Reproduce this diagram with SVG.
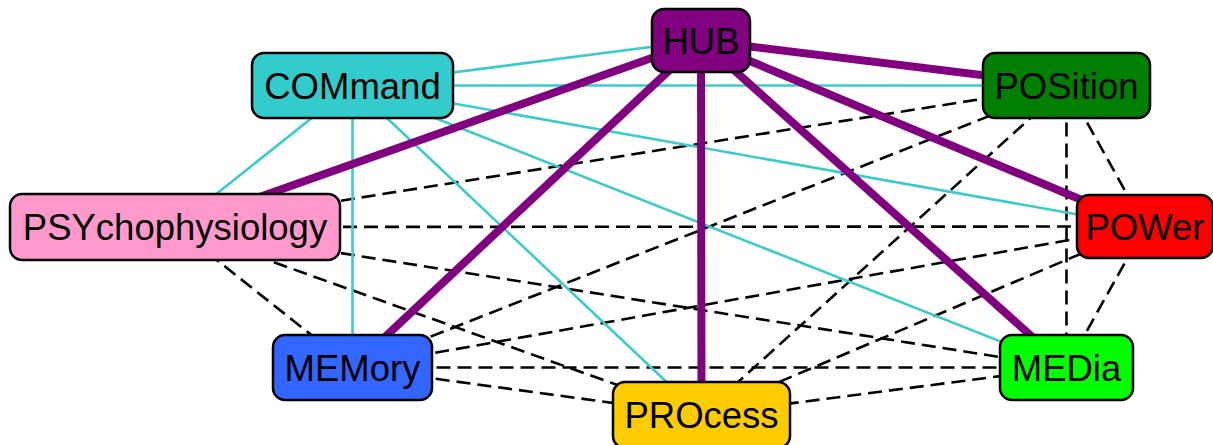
<svg xmlns="http://www.w3.org/2000/svg" width="1213" height="445" viewBox="0 0 1213 445">
  <style>
    .dash { stroke: #000; stroke-width: 2.6; stroke-dasharray: 14 7; fill: none; }
    .cyan { stroke: #3ACCCC; stroke-width: 2.6; fill: none; }
    .hub { stroke: #800080; stroke-width: 8; fill: none; }
    .box { stroke: #000; stroke-width: 2.5; }
    .label { font-family: "Liberation Sans", Arial, sans-serif; font-size: 36.5px; fill: #000; text-anchor: middle; }
  </style>
  <rect width="1213" height="445" fill="#fff"/>

  <!-- connectors run centre to centre, drawn beneath the boxes -->
  <g id="connectors">
    <g id="dashed-links">
      <line class="dash" x1="175" y1="227" x2="352.5" y2="367.5"/>
      <line class="dash" x1="175" y1="227" x2="701.5" y2="415"/>
      <line class="dash" x1="175" y1="227" x2="1066.5" y2="367.5"/>
      <line class="dash" x1="175" y1="227" x2="1145" y2="226.5"/>
      <line class="dash" x1="175" y1="227" x2="1066.5" y2="85.5"/>
      <line class="dash" x1="352.5" y1="367.5" x2="701.5" y2="415"/>
      <line class="dash" x1="352.5" y1="367.5" x2="1066.5" y2="367.5"/>
      <line class="dash" x1="352.5" y1="367.5" x2="1145" y2="226.5"/>
      <line class="dash" x1="352.5" y1="367.5" x2="1066.5" y2="85.5"/>
      <line class="dash" x1="701.5" y1="415" x2="1066.5" y2="367.5"/>
      <line class="dash" x1="701.5" y1="415" x2="1145" y2="226.5"/>
      <line class="dash" x1="701.5" y1="415" x2="1066.5" y2="85.5"/>
      <line class="dash" x1="1066.5" y1="367.5" x2="1145" y2="226.5"/>
      <line class="dash" x1="1066.5" y1="367.5" x2="1066.5" y2="85.5"/>
      <line class="dash" x1="1145" y1="226.5" x2="1066.5" y2="85.5"/>
    </g>
    <g id="command-links">
      <line class="cyan" x1="352.5" y1="85.5" x2="701" y2="40.5"/>
      <line class="cyan" x1="352.5" y1="85.5" x2="1066.5" y2="85.5"/>
      <line class="cyan" x1="352.5" y1="85.5" x2="1145" y2="226.5"/>
      <line class="cyan" x1="352.5" y1="85.5" x2="1066.5" y2="367.5"/>
      <line class="cyan" x1="352.5" y1="85.5" x2="701.5" y2="415"/>
      <line class="cyan" x1="352.5" y1="85.5" x2="352.5" y2="367.5"/>
      <line class="cyan" x1="352.5" y1="85.5" x2="175" y2="227"/>
    </g>
    <g id="hub-links">
      <line class="hub" x1="701" y1="40.5" x2="1066.5" y2="85.5"/>
      <line class="hub" x1="701" y1="40.5" x2="1145" y2="226.5"/>
      <line class="hub" x1="701" y1="40.5" x2="1066.5" y2="367.5"/>
      <line class="hub" x1="701" y1="40.5" x2="701.5" y2="415"/>
      <line class="hub" x1="701" y1="40.5" x2="352.5" y2="367.5"/>
      <line class="hub" x1="701" y1="40.5" x2="175" y2="227"/>
    </g>
  </g>

  <g id="node-hub">
    <rect class="box" x="652" y="9" width="98" height="63" rx="12" fill="#800080"/>
    <text class="label" x="701" y="54">HUB</text>
  </g>
  <g id="node-command">
    <rect class="box" x="252" y="53" width="201" height="65" rx="12" fill="#33CCCC"/>
    <text class="label" x="352.5" y="98.5">COMmand</text>
  </g>
  <g id="node-position">
    <rect class="box" x="983" y="53" width="167" height="65" rx="12" fill="#007F00"/>
    <text class="label" x="1066.5" y="98.5">POSition</text>
  </g>
  <g id="node-psychophysiology">
    <rect class="box" x="10" y="194" width="330" height="66" rx="12" fill="#FF99CC"/>
    <text class="label" x="175" y="240">PSYchophysiology</text>
  </g>
  <g id="node-power">
    <rect class="box" x="1077" y="195" width="136" height="63" rx="12" fill="#FF0000"/>
    <text class="label" x="1145" y="239.5">POWer</text>
  </g>
  <g id="node-memory">
    <rect class="box" x="273" y="335" width="159" height="65" rx="12" fill="#3366FF"/>
    <text class="label" x="352.5" y="380.5">MEMory</text>
  </g>
  <g id="node-process">
    <rect class="box" x="613" y="382" width="177" height="66" rx="12" fill="#FFCC00"/>
    <text class="label" x="701.5" y="428">PROcess</text>
  </g>
  <g id="node-media">
    <rect class="box" x="1000" y="335" width="133" height="65" rx="12" fill="#00FF00"/>
    <text class="label" x="1066.5" y="380.5">MEDia</text>
  </g>
</svg>
